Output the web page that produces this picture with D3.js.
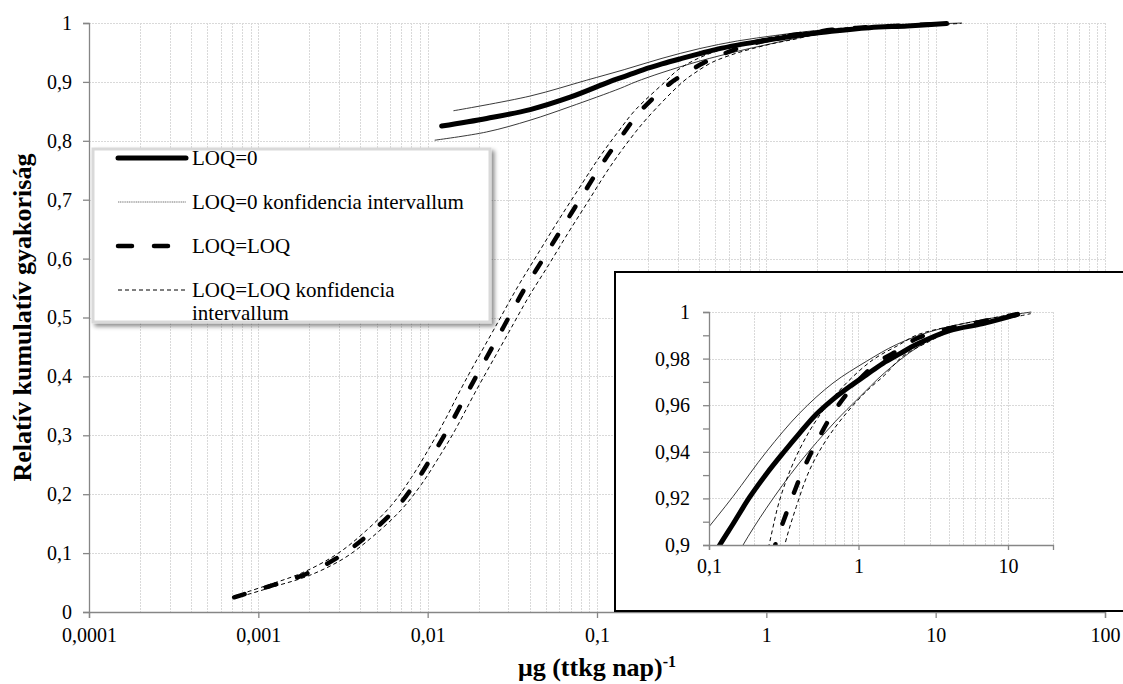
<!DOCTYPE html>
<html><head><meta charset="utf-8">
<script src="https://cdn.jsdelivr.net/npm/d3@7"></script>
<style>
html,body{margin:0;padding:0;background:#fff;}
svg{display:block;}
</style></head>
<body>
<svg id="chart" width="1123" height="684"></svg>
<script>
// ---------- data ----------
const seriesNames = ["LOQ=0", "LOQ=0 konfidencia intervallum", "LOQ=LOQ", "LOQ=LOQ konfidencia intervallum"];

const loq0X = [0.0121, 0.0223, 0.0403, 0.0694, 0.118, 0.1447, 0.187, 0.242, 0.313, 0.404, 0.52, 0.675, 0.873, 1.128, 1.459, 1.88, 2.43, 4.07, 6.8, 11.6];
const loq0Y = [0.825, 0.838, 0.853, 0.874, 0.900, 0.909, 0.9205, 0.9305, 0.9395, 0.948, 0.956, 0.9625, 0.968, 0.973, 0.978, 0.982, 0.986, 0.992, 0.995, 0.999];

const loq0UpX = [0.0142, 0.0403, 0.0871, 0.1447, 0.242, 0.404, 0.675, 1.128, 1.79, 3.0, 5.0, 8.0, 14.3];
const loq0UpY = [0.851, 0.876, 0.903, 0.9208, 0.940, 0.9566, 0.9695, 0.9788, 0.986, 0.9915, 0.995, 0.9975, 1.0];

const loq0LoX = [0.011, 0.0223, 0.0403, 0.0694, 0.137, 0.169, 0.242, 0.40, 0.70, 1.0, 1.5, 2.5, 4.0, 7.0, 11.0];
const loq0LoY = [0.801, 0.815, 0.835, 0.858, 0.889, 0.900, 0.9158, 0.935, 0.953, 0.963, 0.974, 0.985, 0.9915, 0.995, 0.998];

const loqX = [0.00072, 0.00117, 0.00193, 0.00304, 0.00437, 0.00656, 0.00863, 0.0111, 0.0136, 0.0178, 0.028, 0.0367, 0.0482, 0.0632, 0.0831, 0.109, 0.143, 0.18, 0.27, 0.329, 0.425, 0.509, 0.675, 0.942, 1.38, 1.88, 2.43, 4.07, 6.8, 11.3];
const loqY = [0.025, 0.044, 0.065, 0.095, 0.129, 0.177, 0.223, 0.274, 0.318, 0.381, 0.4835, 0.545, 0.60, 0.655, 0.710, 0.764, 0.812, 0.85, 0.8975, 0.9136, 0.932, 0.9425, 0.9566, 0.9688, 0.9788, 0.9838, 0.9885, 0.993, 0.996, 0.999];

const loqUpX = [0.00072, 0.00112, 0.00183, 0.0029, 0.0041, 0.0061, 0.008, 0.0103, 0.0126, 0.0165, 0.026, 0.034, 0.0447, 0.0586, 0.077, 0.101, 0.133, 0.168, 0.252, 0.297, 0.365, 0.471, 0.609, 0.83, 1.25, 1.88, 2.43, 4.07, 6.8, 11.5];
const loqUpY = [0.027, 0.045, 0.067, 0.098, 0.132, 0.181, 0.228, 0.28, 0.325, 0.39, 0.492, 0.552, 0.608, 0.663, 0.716, 0.768, 0.815, 0.852, 0.9, 0.9193, 0.935, 0.949, 0.9595, 0.9695, 0.9795, 0.986, 0.990, 0.9938, 0.9966, 0.9995];

const loqLoX = [0.00072, 0.0012, 0.002, 0.0032, 0.0046, 0.0069, 0.0092, 0.0119, 0.0146, 0.019, 0.03, 0.0395, 0.052, 0.068, 0.089, 0.117, 0.154, 0.2, 0.321, 0.384, 0.471, 0.609, 0.83, 1.13, 1.5, 1.98, 2.98, 4.07, 7.0, 14.2];
const loqLoY = [0.023, 0.042, 0.062, 0.091, 0.125, 0.172, 0.217, 0.267, 0.31, 0.372, 0.474, 0.535, 0.59, 0.645, 0.698, 0.752, 0.8, 0.84, 0.9, 0.9165, 0.9322, 0.9451, 0.9566, 0.966, 0.973, 0.981, 0.9874, 0.9915, 0.995, 0.9993];

const xTickValues = [0.0001, 0.001, 0.01, 0.1, 1, 10, 100];
const xTickLabels = ["0,0001", "0,001", "0,01", "0,1", "1", "10", "100"];
const yTickValues = [0, 0.1, 0.2, 0.3, 0.4, 0.5, 0.6, 0.7, 0.8, 0.9, 1];
const yTickLabels = ["0", "0,1", "0,2", "0,3", "0,4", "0,5", "0,6", "0,7", "0,8", "0,9", "1"];

const insetXTickValues = [0.1, 1, 10];
const insetXTickLabels = ["0,1", "1", "10"];
const insetYTickValues = [0.9, 0.92, 0.94, 0.96, 0.98, 1];
const insetYTickLabels = ["0,9", "0,92", "0,94", "0,96", "0,98", "1"];
const insetYMinorTicks = [0.91, 0.93, 0.95, 0.97, 0.99];

const yTitle = "Relatív kumulatív gyakoriság";
const xTitleMain = "μg (ttkg nap)";
const xTitleSup = "-1";

// ---------- setup ----------
const svg = d3.select("#chart");
const FONT = "Liberation Serif";
const zip = (xs, ys) => xs.map((v, i) => [v, ys[i]]);

const series = [
  {data: zip(loq0UpX, loq0UpY), style: "ci0"},
  {data: zip(loq0LoX, loq0LoY), style: "ci0"},
  {data: zip(loqUpX, loqUpY), style: "ciL"},
  {data: zip(loqLoX, loqLoY), style: "ciL"},
  {data: zip(loqX, loqY), style: "loq"},
  {data: zip(loq0X, loq0Y), style: "loq0"}
];
const styles = {
  loq0: {stroke: "#000", width: 5, dash: null, cap: "round"},
  ci0: {stroke: "#222", width: 0.9, dash: null, cap: "butt"},
  loq: {stroke: "#000", width: 4.5, dash: "11,22", cap: "round"},
  ciL: {stroke: "#000", width: 1, dash: "4,3", cap: "butt"}
};

const defs = svg.append("defs");
const f = defs.append("filter").attr("id", "shadow").attr("x", "-10%").attr("y", "-10%").attr("width", "130%").attr("height", "130%");
f.append("feDropShadow").attr("dx", 3).attr("dy", 3).attr("stdDeviation", 2).attr("flood-color", "#000").attr("flood-opacity", 0.45);

// ---------- main chart ----------
const x = d3.scaleLog().domain([1e-4, 100]).range([89, 1105]);
const y = d3.scaleLinear().domain([0, 1]).range([612, 23]);

const grid = svg.append("g").attr("stroke", "#d9d9d9").attr("stroke-width", 1).attr("stroke-dasharray", "2,1");
grid.selectAll("line.v").data(x.ticks()).join("line")
  .attr("x1", d => Math.round(x(d)) + 0.5).attr("x2", d => Math.round(x(d)) + 0.5)
  .attr("y1", y(1)).attr("y2", y(0));
grid.selectAll("line.h").data(yTickValues).join("line")
  .attr("x1", x(1e-4)).attr("x2", x(100))
  .attr("y1", d => Math.round(y(d)) + 0.5).attr("y2", d => Math.round(y(d)) + 0.5);

const line = d3.line().x(d => x(d[0])).y(d => y(d[1])).curve(d3.curveCatmullRom.alpha(0.5));
function drawSeries(g, lineGen) {
  series.forEach(s => {
    const st = styles[s.style];
    g.append("path").attr("d", lineGen(s.data)).attr("fill", "none")
      .attr("stroke", st.stroke).attr("stroke-width", st.width)
      .attr("stroke-dasharray", st.dash).attr("stroke-linecap", st.cap)
      .attr("stroke-linejoin", "round");
  });
}
drawSeries(svg.append("g"), line);

const axisColor = "#868686";
const yAxis = svg.append("g").attr("transform", `translate(${x(1e-4)},0)`)
  .call(d3.axisLeft(y).tickValues(yTickValues).tickSize(6).tickPadding(11)
    .tickFormat((d, i) => yTickLabels[i]));
const xAxis = svg.append("g").attr("transform", `translate(0,${y(0)})`)
  .call(d3.axisBottom(x).tickValues(xTickValues).tickSize(6).tickPadding(10)
    .tickFormat((d, i) => xTickLabels[i]));
[yAxis, xAxis].forEach(a => {
  a.attr("font-family", FONT).attr("font-size", 20);
  a.select(".domain").attr("stroke", axisColor).attr("stroke-width", 1.3);
  a.selectAll(".tick line").attr("stroke", axisColor).attr("stroke-width", 1.3);
  a.selectAll("text").attr("font-family", FONT).attr("font-size", 20).attr("fill", "#000");
});

// axis titles
svg.append("text").attr("transform", `translate(31,${(y(0) + y(1)) / 2}) rotate(-90)`)
  .attr("text-anchor", "middle").attr("font-family", FONT).attr("font-weight", "bold")
  .attr("font-size", 26).text(yTitle);
const xt = svg.append("text").attr("x", 597).attr("y", 676).attr("text-anchor", "middle")
  .attr("font-family", FONT).attr("font-weight", "bold").attr("font-size", 26);
xt.append("tspan").text(xTitleMain);
xt.append("tspan").attr("dy", -9).attr("font-size", 16).text(xTitleSup);

// ---------- legend ----------
const lg = svg.append("g");
lg.append("rect").attr("x", 93).attr("y", 149).attr("width", 397).attr("height", 173)
  .attr("fill", "#fff").attr("stroke", "#d9d9d9").attr("stroke-width", 3).attr("filter", "url(#shadow)");
const legendItems = [
  {style: "loq0", y: 158, lines: [seriesNames[0]]},
  {style: "ci0", y: 202, lines: [seriesNames[1]]},
  {style: "loq", y: 246, lines: [seriesNames[2]]},
  {style: "ciL", y: 290, lines: ["LOQ=LOQ konfidencia", "intervallum"]}
];
const legendDash = {loq: "14,22", ci0: "1.2,0.6"};
legendItems.forEach(it => {
  const st = styles[it.style];
  lg.append("line").attr("x1", 118).attr("x2", 186).attr("y1", it.y).attr("y2", it.y)
    .attr("stroke", it.style === "ci0" ? "#666" : st.stroke).attr("stroke-width", st.width)
    .attr("stroke-dasharray", legendDash[it.style] || st.dash).attr("stroke-linecap", st.cap);
  const t = lg.append("text").attr("x", 192).attr("y", it.y + 7)
    .attr("font-family", FONT).attr("font-size", 21);
  it.lines.forEach((l, i) => t.append("tspan").attr("x", 192).attr("dy", i === 0 ? 0 : 23).text(l));
});

// ---------- inset ----------
const ins = svg.append("g");
ins.append("rect").attr("x", 615).attr("y", 272).attr("width", 530).attr("height", 339)
  .attr("fill", "#fff").attr("stroke", "#000").attr("stroke-width", 2);

const xi = d3.scaleLog().domain([0.1, 20]).range([709, 1053]);
const yi = d3.scaleLinear().domain([0.9, 1]).range([545, 312]);

const gi = ins.append("g").attr("stroke", "#d9d9d9").attr("stroke-width", 1).attr("stroke-dasharray", "2,1");
gi.selectAll("line.v").data(xi.ticks()).join("line")
  .attr("x1", d => Math.round(xi(d)) + 0.5).attr("x2", d => Math.round(xi(d)) + 0.5)
  .attr("y1", yi(1)).attr("y2", yi(0.9));
gi.selectAll("line.h").data(insetYTickValues).join("line")
  .attr("x1", xi(0.1)).attr("x2", xi(20))
  .attr("y1", d => Math.round(yi(d)) + 0.5).attr("y2", d => Math.round(yi(d)) + 0.5);

defs.append("clipPath").attr("id", "insclip").append("rect")
  .attr("x", xi(0.1)).attr("y", yi(1) - 4).attr("width", xi(20) - xi(0.1)).attr("height", yi(0.9) - yi(1) + 4);
const lineI = d3.line().x(d => xi(d[0])).y(d => yi(d[1])).curve(d3.curveCatmullRom.alpha(0.5));
drawSeries(ins.append("g").attr("clip-path", "url(#insclip)"), lineI);

const iyAxis = ins.append("g").attr("transform", `translate(${xi(0.1)},0)`)
  .call(d3.axisLeft(yi).tickValues(insetYTickValues).tickSize(6).tickPadding(13)
    .tickFormat((d, i) => insetYTickLabels[i]));
const iyMinor = ins.append("g").attr("transform", `translate(${xi(0.1)},0)`)
  .call(d3.axisLeft(yi).tickValues(insetYMinorTicks).tickSize(6).tickFormat(""));
const ixAxis = ins.append("g").attr("transform", `translate(0,${yi(0.9)})`)
  .call(d3.axisBottom(xi).tickValues(insetXTickValues).tickSize(5).tickPadding(9)
    .tickFormat((d, i) => insetXTickLabels[i]));
[iyAxis, iyMinor, ixAxis].forEach(a => {
  a.attr("font-family", FONT).attr("font-size", 20);
  a.select(".domain").attr("stroke", axisColor).attr("stroke-width", 1.3);
  a.selectAll(".tick line").attr("stroke", axisColor).attr("stroke-width", 1.3);
  a.selectAll("text").attr("font-family", FONT).attr("font-size", 20).attr("fill", "#000");
});
iyMinor.select(".domain").remove();
</script>
</body></html>
